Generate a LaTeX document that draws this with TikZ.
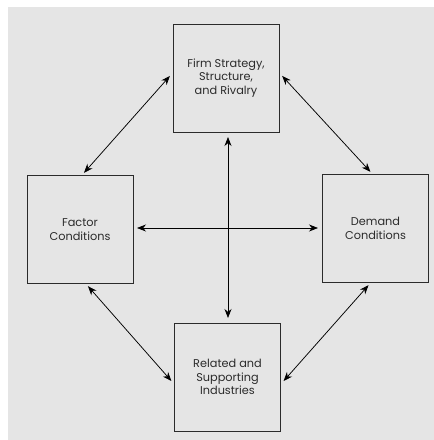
\documentclass[tikz,border=0pt]{standalone}
\usepackage{fontspec}
\setmainfont{Poppins}
\usepackage{tikz}
\usetikzlibrary{arrows.meta}

\definecolor{bggray}{HTML}{E5E5E5}
\definecolor{inkgray}{HTML}{2B2B2B}

\begin{document}
\begin{tikzpicture}[x=1pt,y=-1pt,
	factor/.style={draw=inkgray, line width=0.9pt, minimum width=106pt, minimum height=108pt,
		align=center, inner sep=0pt, font=\fontsize{11.3}{13.8}\selectfont, text=inkgray},
	link/.style={draw=black, line width=0.75pt, {Stealth[length=9pt,width=7pt]}-{Stealth[length=9pt,width=7pt]}}]
	\useasboundingbox (0,0) rectangle (434,440);
	\fill[white] (0,0) rectangle (434,440);
	\fill[bggray] (8,7) rectangle (434,440);
	\node[factor] (firm) at (226,78) {Firm Strategy,\\Structure,\\and Rivalry};
	\node[factor] (fac) at (80,229.5) {Factor\\Conditions};
	\node[factor] (dem) at (375.5,228.5) {Demand\\Conditions};
	\node[factor] (rel) at (227.5,377) {Related and\\Supporting\\Industries};
	\coordinate (vtop) at (228,137);
	\coordinate (vbot) at (228,318);
	\coordinate (hleft) at (137,228);
	\coordinate (hright) at (318,228);
	\draw[link] (vtop) -- (vbot);
	\draw[link] (hleft) -- (hright);
	\draw[link, shorten <=4pt, shorten >=3pt] ([yshift=5pt]firm.west) -- ([xshift=2pt]fac.north);
	\draw[link, shorten <=4pt, shorten >=3pt] ([yshift=5pt]firm.east) -- ([xshift=-3pt]dem.north);
	\draw[link, shorten <=3pt, shorten >=4pt] ([xshift=6pt]fac.south) -- ([yshift=-7pt]rel.west);
	\draw[link, shorten <=3pt, shorten >=4pt] ([xshift=-5pt]dem.south) -- ([yshift=-7pt]rel.east);
\end{tikzpicture}
\end{document}
